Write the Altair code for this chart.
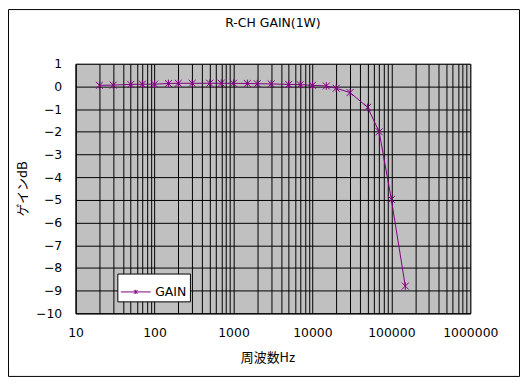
import altair as alt
import pandas as pd

# ---- data ----
freq = [20, 30, 50, 70, 100, 150, 200, 300, 500, 700, 1000, 1500, 2000, 3000,
        5000, 7000, 10000, 15000, 20000, 30000, 50000, 70000, 100000, 150000]
gain = [0.05, 0.06, 0.09, 0.10, 0.10, 0.13, 0.14, 0.14, 0.14, 0.14, 0.14, 0.13,
        0.12, 0.11, 0.09, 0.08, 0.05, 0.02, -0.08, -0.27, -0.92, -2.0, -4.98, -8.8]
series = ["GAIN"] * len(freq)

x_grid = [m * 10 ** k for k in range(1, 6) for m in range(1, 10)] + [1000000]
x_labels = ["10", "100", "1000", "10000", "100000", "1000000"]
y_ticks = [-10, -9, -8, -7, -6, -5, -4, -3, -2, -1, 0, 1]

title_text = "R-CH GAIN(1W)"
x_title = "周波数Hz"
y_title = "ゲインdB"

df = pd.DataFrame({"freq": freq, "gain": gain, "series": series})

PURPLE = "#800080"
FONT = "DejaVu Sans"
JFONT = "Noto Sans CJK JP"
STAR = "M-1,-1L1,1M-1,1L1,-1M0,-1.1L0,1.1"
LEG_SYM = "M-1,0L1,0M-0.12,-0.12L0.12,0.12M-0.12,0.12L0.12,-0.12M0,-0.14L0,0.14"

label_test = "indexof(" + str(x_labels) + ", datum.label) >= 0 ? datum.label : ''"

x_enc = alt.X(
    "freq:Q",
    scale=alt.Scale(type="log", domain=[10, 1000000], nice=False),
    axis=alt.Axis(
        values=x_grid, format="d", labelExpr=label_test, labelOverlap=False,
        labelFlush=False,
        title=x_title, titleFont=JFONT, titleFontSize=13, titleFontWeight="normal",
        titleX=193, titleY=44, titleBaseline="middle", titleAlign="center",
        labelPadding=13,
    ),
)
y_enc = alt.Y(
    "gain:Q",
    scale=alt.Scale(domain=[-10, 1], nice=False),
    axis=alt.Axis(
        values=y_ticks, tickCount=12, format="d", labelOverlap=False,
        labelFlush=False,
        title=y_title, titleFont=JFONT,
        titleFontSize=13, titleFontWeight="normal",
        titleX=-53, titleY=125.5, titleAlign="center", titleBaseline="middle",
        labelPadding=14,
    ),
)

border = alt.Chart(alt.Data(values=[{}])).mark_rect(
    fill="transparent", stroke="black", strokeWidth=1
).encode(
    x=alt.value(-67.5), x2=alt.value(446.5), y=alt.value(-54.5), y2=alt.value(314.5)
)

line = alt.Chart(df).mark_line(strokeWidth=1).encode(
    x=x_enc, y=y_enc,
    color=alt.Color(
        "series:N", scale=alt.Scale(range=[PURPLE]),
        legend=alt.Legend(
            title=None, orient="none", legendX=42, legendY=211,
            fillColor="white", strokeColor="black", padding=3,
            symbolType=LEG_SYM, symbolSize=900, symbolStrokeWidth=1,
            symbolFillColor="transparent", symbolStrokeColor=PURPLE,
            labelFont=FONT, labelFontSize=12.5, labelColor="black", labelOffset=4,
            cornerRadius=0,
        ),
    ),
)

points = alt.Chart(df).mark_point(
    shape=STAR, filled=False, size=49, strokeWidth=1, color=PURPLE, opacity=1
).encode(x=x_enc, y=y_enc)

chart = alt.layer(border, line, points).properties(
    width=397, height=251,
    background="white",
    title=alt.TitleParams(
        text=title_text, font=FONT, fontSize=12.5, fontWeight="normal",
        color="black", anchor="middle", baseline="middle", offset=-26.5,
    ),
    autosize=alt.AutoSizeParams(type="none"),
    padding={"left": 68, "top": 55, "right": 52, "bottom": 66},
).configure_view(
    fill="#C0C0C0", stroke="#808080", strokeWidth=1
).configure_axis(
    domainColor="black", domainWidth=1, gridColor="black", gridOpacity=1,
    gridWidth=1, ticks=False, tickSize=0, labelFont=FONT, labelFontSize=12.5,
    labelColor="black", titleColor="black",
)

chart.save("out.html", embed_options={"renderer": "svg", "actions": False})
